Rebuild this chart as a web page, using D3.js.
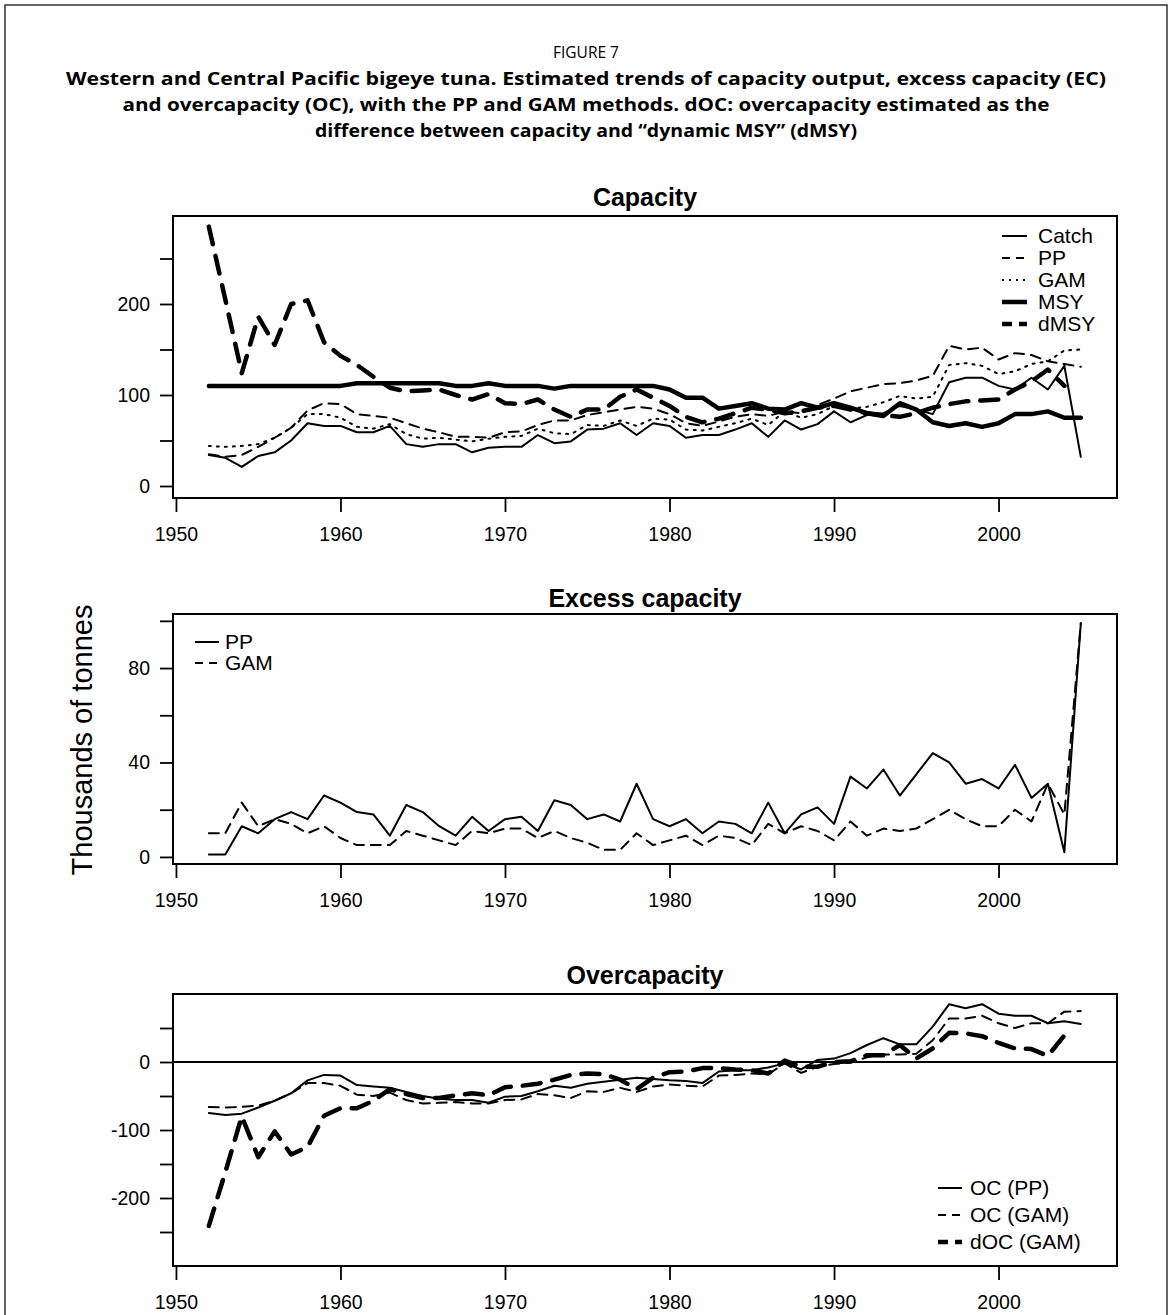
<!DOCTYPE html>
<html>
<head>
<meta charset="utf-8">
<script src="https://cdn.jsdelivr.net/npm/d3@7/dist/d3.min.js"></script>
<style>
  body { margin: 0; background: #fff; }
  text { font-family: "Liberation Sans", Arial, Helvetica, sans-serif; fill: #000; }
  .caption { font-family: "Open Sans", "Noto Sans", sans-serif; }
</style>
</head>
<body>
<div id="figure"></div>
<script>

// Data (thousands of tonnes)
var years = [1952,1953,1954,1955,1956,1957,1958,1959,1960,1961,
             1962,1963,1964,1965,1966,1967,1968,1969,1970,1971,
             1972,1973,1974,1975,1976,1977,1978,1979,1980,1981,
             1982,1983,1984,1985,1986,1987,1988,1989,1990,1991,
             1992,1993,1994,1995,1996,1997,1998,1999,2000,2001,
             2002,2003,2004,2005];

var catchVals = [34,31,21,33,37,50,69,66,66,59,
                 59,66,46,43,46,46,37,42,43,43,
                 56,47,49,62,63,69,56,69,66,53,
                 56,56,62,69,54,72,62,68,82,70,
                 78,80,88,84,79,114,119,119,110,106,
                 119,106,132,32];

var ppVals = [35,32,34,43,53,64,83,91,90,79,
              77,75,69,63,59,54,54,53,59,60,
              67,72,72,78,81,84,87,85,79,69,
              66,71,76,79,77,82,80,89,96,104,
              108,112,113,116,121,154,150,152,139,146,
              144,137,134,131];

var gamVals = [44,43,44,46,53,64,79,79,75,65,
               63,68,57,52,53,51,49,52,54,55,
               63,58,57,67,66,72,66,74,73,62,
               61,65,69,74,67,82,75,79,88,85,
               87,92,99,96,98,133,135,132,123,126,
               134,137,149,150];

var msyVals = [110,110,110,110,110,110,110,110,110,113,
               113,113,113,113,113,110,110,113,110,110,
               110,107,110,110,110,110,110,110,106,97,
               97,85,88,91,85,84,91,86,91,86,
               80,77,91,84,70,66,69,65,69,79,
               79,82,75,75];

var dmsyVals = [285,205,124,186,155,200,204,158,143,133,
                120,108,104,105,106,100,95,101,91,90,
                95,84,76,84,84,98,106,97,88,76,
                70,74,80,86,84,80,82,86,88,84,
                80,78,76,80,86,90,93,94,95,106,
                115,128,110,null];

var ecPP = [1,1,13,10,16,19,16,26,23,19,
            18,9,22,19,13,9,17,11,16,17,
            11,24,22,16,18,15,31,16,13,16,
            10,15,14,10,23,10,18,21,14,34,
            29,37,26,35,44,40,31,33,29,39,
            25,31,2,99];

var ecGAM = [10,10,23,13,16,14,10,13,8,5,
             5,5,11,9,7,5,11,10,12,12,
             8,11,8,6,3,3,10,5,7,9,
             5,9,8,5,14,10,13,11,7,15,
             9,12,11,12,16,20,16,13,13,20,
             15,31,18,99];

var ocPP = [-75,-78,-76,-67,-57,-46,-27,-19,-20,-34,
            -36,-38,-44,-50,-54,-56,-56,-60,-51,-50,
            -43,-35,-38,-32,-29,-26,-23,-25,-27,-28,
            -31,-14,-12,-12,-8,-2,-11,3,5,13,
            25,35,26,26,52,85,79,85,71,68,
            68,57,60,56];

var ocGAM = [-66,-67,-66,-64,-57,-46,-31,-31,-35,-48,
             -50,-45,-56,-61,-60,-59,-61,-61,-56,-55,
             -47,-49,-53,-43,-44,-38,-44,-36,-33,-35,
             -36,-20,-19,-17,-18,-2,-16,-7,-3,-1,
             7,11,11,12,32,64,64,68,57,50,
             57,57,74,75];

var docGAM = [-241,-162,-80,-140,-102,-136,-125,-79,-68,-68,
              -57,-40,-47,-53,-53,-49,-46,-49,-37,-35,
              -32,-26,-19,-17,-18,-26,-40,-23,-15,-14,
              -9,-9,-11,-12,-17,2,-7,-7,0,1,
              10,10,25,5,20,43,42,38,28,20,
              19,9,39,null];

var xTicks = [1950, 1960, 1970, 1980, 1990, 2000];

// line styles (R lty / lwd look)
var styles = {
  thin:      { width: 2,   dash: null },
  dashed:    { width: 2,   dash: "10,7" },
  dotted:    { width: 2,   dash: "2,6" },
  thick:     { width: 4.5, dash: null },
  thickDash: { width: 4.5, dash: "18,12" }
};

var svgWidth = 1172;
var svgHeight = 1315;

var svg = d3.select("#figure")
  .append("svg")
  .attr("width", svgWidth)
  .attr("height", svgHeight);

svg.append("rect")
  .attr("width", svgWidth)
  .attr("height", svgHeight)
  .attr("fill", "#fff");

// frame around the figure
svg.append("rect")
  .attr("x", 5)
  .attr("y", 5)
  .attr("width", 1162)
  .attr("height", 1340)
  .attr("fill", "none")
  .attr("stroke", "#333")
  .attr("stroke-width", 1.5);

// Caption
svg.append("text")
  .attr("class", "caption")
  .attr("x", 586)
  .attr("y", 58)
  .attr("text-anchor", "middle")
  .attr("textLength", 66)
  .attr("lengthAdjust", "spacingAndGlyphs")
  .style("font-size", "16.5px")
  .text("FIGURE 7");

var captionLines = [
  { t: "Western and Central Pacific bigeye tuna. Estimated trends of capacity output, excess capacity (EC)", y: 85, w: 1040 },
  { t: "and overcapacity (OC), with the PP and GAM methods. dOC: overcapacity estimated as the", y: 111, w: 927 },
  { t: "difference between capacity and \u201cdynamic MSY\u201d (dMSY)", y: 137, w: 542 }
];

captionLines.forEach(function(c) {
  svg.append("text")
    .attr("class", "caption")
    .attr("x", 586)
    .attr("y", c.y)
    .attr("text-anchor", "middle")
    .attr("textLength", c.w)
    .attr("lengthAdjust", "spacingAndGlyphs")
    .style("font-size", "18.5px")
    .style("font-weight", "bold")
    .text(c.t);
});

// shared x scale
var xScale = d3.scaleLinear()
  .domain([1949.82, 2007.2])
  .range([173, 1117]);

function drawPanel(p) {
  var yScale = d3.scaleLinear()
    .domain(p.yDomain)
    .range([p.bottom, p.top]);

  var g = svg.append("g");

  // zero line first so the series sit on it
  if (p.zeroLine) {
    g.append("line")
      .attr("x1", xScale.range()[0])
      .attr("x2", xScale.range()[1])
      .attr("y1", yScale(0))
      .attr("y2", yScale(0))
      .attr("stroke", "#000")
      .attr("stroke-width", 2);
  }

  p.series.forEach(function(s) {
    var st = styles[s.style];
    var line = d3.line()
      .defined(function(d) { return d.v !== null; })
      .x(function(d) { return xScale(d.year); })
      .y(function(d) { return yScale(d.v); });

    var pts = years.map(function(yr, i) { return { year: yr, v: s.values[i] }; });

    g.append("path")
      .datum(pts)
      .attr("d", line)
      .attr("fill", "none")
      .attr("stroke", "#000")
      .attr("stroke-width", st.width)
      .attr("stroke-dasharray", st.dash)
      .attr("stroke-linejoin", "round")
      .attr("stroke-linecap", "round");
  });

  // box
  g.append("rect")
    .attr("x", xScale.range()[0])
    .attr("y", p.top)
    .attr("width", xScale.range()[1] - xScale.range()[0])
    .attr("height", p.bottom - p.top)
    .attr("fill", "none")
    .attr("stroke", "#000")
    .attr("stroke-width", 2);

  // axes
  var bottomAxis = d3.axisBottom(xScale)
    .tickValues(xTicks)
    .tickSize(14)
    .tickPadding(15)
    .tickFormat(d3.format("d"));

  var leftAxis = d3.axisLeft(yScale)
    .tickValues(p.yTicks)
    .tickSize(13)
    .tickPadding(10)
    .tickFormat(function(d) { return p.yLabels.indexOf(d) >= 0 ? d : ""; });

  var xg = g.append("g")
    .attr("transform", "translate(0," + p.bottom + ")")
    .call(bottomAxis);
  var yg = g.append("g")
    .attr("transform", "translate(" + xScale.range()[0] + ",0)")
    .call(leftAxis);

  [xg, yg].forEach(function(a) {
    a.select(".domain").remove();
    a.selectAll(".tick line").attr("stroke", "#000").attr("stroke-width", 1.8);
    a.selectAll(".tick text")
      .attr("fill", "#000")
      .style("font-family", "'Liberation Sans', Arial, sans-serif")
      .style("font-size", "19.5px");
  });
  yg.selectAll(".tick text").text(function(d) { return p.yLabels.indexOf(d) >= 0 ? d : ""; });

  // panel title
  g.append("text")
    .attr("x", (xScale.range()[0] + xScale.range()[1]) / 2)
    .attr("y", p.titleY)
    .attr("dy", "0.35em")
    .attr("text-anchor", "middle")
    .style("font-size", "25px")
    .style("font-weight", "bold")
    .text(p.title);

  // legend
  var lg = p.legend;
  lg.items.forEach(function(it, i) {
    var st = styles[it.style];
    var ly = lg.y + i * lg.step;
    g.append("line")
      .attr("x1", lg.x1)
      .attr("x2", lg.x2)
      .attr("y1", ly)
      .attr("y2", ly)
      .attr("stroke", "#000")
      .attr("stroke-width", st.width)
      .attr("stroke-dasharray", it.legendDash || st.dash);
    g.append("text")
      .attr("x", lg.tx)
      .attr("y", ly)
      .attr("dy", "0.35em")
      .style("font-size", "21px")
      .text(it.label);
  });
}

drawPanel({
  title: "Capacity",
  titleY: 197,
  top: 216,
  bottom: 498,
  yDomain: [-13.2, 296.7],
  yTicks: [0, 50, 100, 150, 200, 250],
  yLabels: [0, 100, 200],
  series: [
    { values: catchVals, style: "thin" },
    { values: ppVals, style: "dashed" },
    { values: gamVals, style: "dotted" },
    { values: msyVals, style: "thick" },
    { values: dmsyVals, style: "thickDash" }
  ],
  legend: {
    x1: 1002, x2: 1027, tx: 1038, y: 236, step: 22,
    items: [
      { label: "Catch", style: "thin" },
      { label: "PP", style: "dashed", legendDash: "8,6" },
      { label: "GAM", style: "dotted", legendDash: "2,5" },
      { label: "MSY", style: "thick" },
      { label: "dMSY", style: "thickDash", legendDash: "10,7" }
    ]
  }
});

drawPanel({
  title: "Excess capacity",
  titleY: 598,
  top: 614,
  bottom: 864,
  yDomain: [-3, 102.9],
  yTicks: [0, 20, 40, 60, 80, 100],
  yLabels: [0, 40, 80],
  series: [
    { values: ecPP, style: "thin" },
    { values: ecGAM, style: "dashed" }
  ],
  legend: {
    x1: 195, x2: 219, tx: 225, y: 642, step: 21,
    items: [
      { label: "PP", style: "thin" },
      { label: "GAM", style: "dashed", legendDash: "8,6" }
    ]
  }
});

drawPanel({
  title: "Overcapacity",
  titleY: 975,
  top: 994,
  bottom: 1266,
  yDomain: [-300, 100],
  yTicks: [-250, -200, -150, -100, -50, 0, 50],
  yLabels: [-200, -100, 0],
  zeroLine: true,
  series: [
    { values: ocPP, style: "thin" },
    { values: ocGAM, style: "dashed" },
    { values: docGAM, style: "thickDash" }
  ],
  legend: {
    x1: 938, x2: 962, tx: 970, y: 1188, step: 27,
    items: [
      { label: "OC (PP)", style: "thin" },
      { label: "OC (GAM)", style: "dashed", legendDash: "8,6" },
      { label: "dOC (GAM)", style: "thickDash", legendDash: "10,7" }
    ]
  }
});

// shared y-axis label
svg.append("text")
  .attr("transform", "translate(82,740) rotate(-90)")
  .attr("dy", "0.35em")
  .attr("text-anchor", "middle")
  .style("font-size", "29px")
  .text("Thousands of tonnes");

</script>
</body>
</html>
